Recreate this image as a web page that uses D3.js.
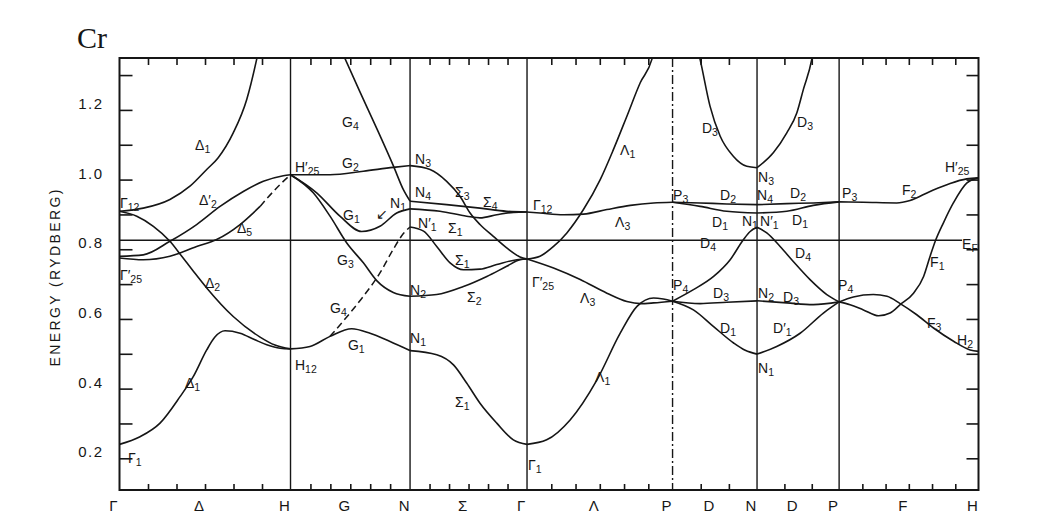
<!DOCTYPE html>
<html><head><meta charset="utf-8">
<script src="https://cdn.jsdelivr.net/npm/d3@7/dist/d3.min.js"></script>
<style>html,body{margin:0;padding:0;background:#fff;} svg{display:block;}</style>
</head><body><svg id="chart" width="1044" height="523"></svg>
<script>
// ---------- data ----------
// symmetry points along the k-path (units of Γ–H distance)
const kPos = [0, 1.0, 1.699, 2.383, 3.234, 3.728, 4.208, 5.023];
const symLabels = ["Γ","H","N","Γ","P","N","P","H"];
const segLabels = ["Δ","G","Σ","Λ","D","D","F"];
const segDivisions = [6,6,6,6,3,3,6];
const yTickValues = [0.2,0.3,0.4,0.5,0.6,0.7,0.8,0.9,1.0,1.1,1.2,1.3];
const yLabelValues = [0.2,0.4,0.6,0.8,1.0,1.2];
const yLabelText = ["0.2","0.4","0.6","0.8","1.0","1.2"];
const fermiEnergy = 0.826;

// bands: [k, E(Ry)]
// Γ – H (Δ)
const bandDelta1Upper = [[0,0.909],[0.139,0.918],[0.295,0.943],[0.412,0.981],[0.510,1.029],[0.576,1.062],[0.665,1.134],[0.744,1.23],[0.802,1.345],[0.813,1.37]];
const bandDelta2 = [[0,0.909],[0.101,0.895],[0.198,0.866],[0.295,0.823],[0.364,0.780],[0.432,0.737],[0.510,0.689],[0.665,0.607],[0.822,0.548],[0.909,0.525],[1,0.514]];
const bandDelta1Lower = [[0,0.240],[0.120,0.262],[0.237,0.301],[0.354,0.377],[0.432,0.435],[0.510,0.511],[0.558,0.548],[0.617,0.566],[0.705,0.559],[0.792,0.540],[0.861,0.526],[0.939,0.516],[1,0.514]];
const bandDelta2p = [[0,0.780],[0.139,0.784],[0.295,0.823],[0.451,0.871],[0.588,0.923],[0.724,0.966],[0.841,0.995],[0.958,1.011],[1,1.014]];
const bandDelta5 = [[0,0.775],[0.139,0.770],[0.295,0.780],[0.451,0.808],[0.568,0.828],[0.705,0.871],[0.822,0.923]];
const bandDelta5Dash = [[0.822,0.923],[0.939,0.986],[1,1.014]];
// H – N (G)
const bandG2 = [[1,1.014],[1.231,1.014],[1.426,1.024],[1.601,1.035],[1.699,1.040]];
const bandG4Upper = [[1.307,1.36],[1.404,1.254],[1.504,1.147],[1.601,1.04],[1.660,0.971],[1.699,0.938]];
const bandG1Upper = [[1,1.014],[1.153,0.962],[1.289,0.895],[1.416,0.851],[1.523,0.866],[1.621,0.904],[1.699,0.916]];
const bandG3 = [[1,1.014],[1.133,0.962],[1.231,0.895],[1.329,0.818],[1.426,0.761],[1.504,0.710],[1.601,0.676],[1.699,0.665]];
const bandG4Lower = [[1.231,0.550],[1.348,0.617],[1.426,0.665],[1.523,0.732],[1.601,0.800],[1.660,0.845],[1.699,0.864]];
const bandG1Lower = [[1,0.514],[1.114,0.521],[1.231,0.550],[1.358,0.572],[1.465,0.559],[1.582,0.535],[1.699,0.509]];
// N – Γ (Σ)
const bandSigma3 = [[1.699,1.040],[1.816,1.029],[1.913,0.995],[1.991,0.952],[2.050,0.904],[2.108,0.871],[2.186,0.837],[2.264,0.804],[2.342,0.778],[2.383,0.772]];
const bandSigma4 = [[1.699,0.938],[1.913,0.928],[2.108,0.918],[2.264,0.909],[2.383,0.907]];
const bandSigma1Upper = [[1.699,0.916],[1.874,0.909],[2.030,0.895],[2.108,0.890],[2.206,0.899],[2.303,0.906],[2.383,0.907]];
const bandSigma1Mid = [[1.699,0.864],[1.778,0.852],[1.855,0.808],[1.933,0.761],[2.011,0.741],[2.108,0.743],[2.206,0.756],[2.323,0.770],[2.383,0.772]];
const bandSigma2 = [[1.699,0.665],[1.855,0.670],[2.011,0.693],[2.148,0.722],[2.264,0.751],[2.342,0.770],[2.383,0.772]];
const bandSigma1Lower = [[1.699,0.509],[1.855,0.497],[1.953,0.468],[2.030,0.416],[2.108,0.358],[2.206,0.301],[2.303,0.253],[2.383,0.240]];
// Γ – P (Λ)
const bandLambda1Upper = [[2.383,0.772],[2.459,0.780],[2.538,0.808],[2.616,0.847],[2.713,0.914],[2.811,1.0],[2.888,1.086],[2.967,1.182],[3.045,1.278],[3.113,1.345],[3.126,1.37]];
const bandLambda3Upper = [[2.383,0.907],[2.459,0.904],[2.596,0.899],[2.713,0.901],[2.850,0.914],[2.987,0.926],[3.123,0.933],[3.234,0.935]];
const bandLambda3Lower = [[2.383,0.772],[2.538,0.746],[2.694,0.713],[2.850,0.674],[2.967,0.650],[3.045,0.644],[3.123,0.646],[3.234,0.651]];
const bandLambda1Lower = [[2.383,0.240],[2.498,0.253],[2.635,0.310],[2.792,0.425],[2.928,0.559],[3.026,0.636],[3.123,0.660],[3.180,0.657],[3.234,0.651]];
// P – N (D)
const bandD3UpperL = [[3.383,1.37],[3.395,1.345],[3.453,1.211],[3.512,1.125],[3.589,1.067],[3.668,1.038],[3.728,1.034]];
const bandD2L = [[3.234,0.935],[3.395,0.933],[3.551,0.930],[3.728,0.928]];
const bandD1UpperL = [[3.234,0.935],[3.395,0.923],[3.551,0.909],[3.728,0.904]];
const bandD4L = [[3.234,0.651],[3.356,0.684],[3.474,0.722],[3.571,0.770],[3.649,0.828],[3.688,0.851],[3.728,0.863]];
const bandD3MidL = [[3.234,0.651],[3.395,0.644],[3.551,0.648],[3.728,0.652]];
const bandD1LowerL = [[3.234,0.651],[3.356,0.626],[3.474,0.578],[3.591,0.531],[3.659,0.510],[3.728,0.499]];
// N – P (D)
const bandD3UpperR = [[3.728,1.034],[3.823,1.077],[3.902,1.134],[3.961,1.192],[3.999,1.259],[4.048,1.345],[4.057,1.37]];
const bandD2R = [[3.728,0.928],[3.902,0.931],[4.057,0.933],[4.208,0.936]];
const bandD1UpperR = [[3.728,0.904],[3.902,0.909],[4.057,0.926],[4.208,0.936]];
const bandD4R = [[3.728,0.863],[3.785,0.847],[3.863,0.808],[3.940,0.765],[4.038,0.713],[4.136,0.670],[4.208,0.649]];
const bandD3MidR = [[3.728,0.652],[3.902,0.646],[4.057,0.641],[4.208,0.649]];
const bandD1LowerR = [[3.728,0.499],[3.843,0.521],[3.980,0.559],[4.116,0.617],[4.208,0.649]];
// P – H (F)
const bandF2 = [[4.208,0.936],[4.350,0.935],[4.545,0.933],[4.623,0.940],[4.740,0.966],[4.857,0.989],[4.954,1.002],[5.023,1.005]];
const bandF1 = [[4.208,0.649],[4.272,0.641],[4.350,0.626],[4.439,0.609],[4.506,0.617],[4.565,0.641],[4.643,0.674],[4.702,0.722],[4.740,0.780],[4.770,0.823],[4.818,0.876],[4.876,0.933],[4.954,0.990],[5.023,1.005]];
const bandF3 = [[4.208,0.649],[4.291,0.663],[4.408,0.670],[4.488,0.665],[4.565,0.644],[4.662,0.612],[4.760,0.574],[4.877,0.536],[4.974,0.511],[5.023,0.507]];

const solidBands = [bandDelta1Upper,bandDelta2,bandDelta1Lower,bandDelta2p,bandDelta5,
  bandG2,bandG4Upper,bandG1Upper,bandG3,bandG1Lower,
  bandSigma3,bandSigma4,bandSigma1Upper,bandSigma1Mid,bandSigma2,bandSigma1Lower,
  bandLambda1Upper,bandLambda3Upper,bandLambda3Lower,bandLambda1Lower,
  bandD3UpperL,bandD2L,bandD1UpperL,bandD4L,bandD3MidL,bandD1LowerL,
  bandD3UpperR,bandD2R,bandD1UpperR,bandD4R,bandD3MidR,bandD1LowerR,
  bandF2,bandF1,bandF3];
const dashedBands = [bandDelta5Dash, bandG4Lower];

// band labels: [main, subscript, k, E]
const bandLabels = [
  ["Γ","12",0.003,0.919],["Δ","1",0.442,1.085],["Δ′","2",0.465,0.927],["Δ","5",0.687,0.847],
  ["Γ′","25",0.003,0.712],["Δ","2",0.500,0.689],["Δ","1",0.383,0.402],["Γ","1",0.050,0.186],
  ["H′","25",1.026,1.023],["G","2",1.301,1.033],["G","4",1.301,1.152],["N","3",1.728,1.045],
  ["N","4",1.728,0.951],["Σ","3",1.962,0.951],["Σ","4",2.126,0.922],["G","1",1.307,0.884],
  ["N","1",1.582,0.919],["↙","",1.500,0.886],["N′","1",1.746,0.862],["Σ","1",1.921,0.848],
  ["G","3",1.272,0.755],["Σ","1",1.962,0.755],["N","2",1.699,0.669],["Σ","2",2.032,0.650],
  ["G","4",1.231,0.616],["G","1",1.336,0.511],["H","12",1.026,0.454],["N","1",1.699,0.530],
  ["Σ","1",1.962,0.348],["Γ","1",2.389,0.166],["Γ","12",2.418,0.913],["Γ′","25",2.412,0.693],
  ["Λ","1",2.927,1.071],["Λ","3",2.898,0.865],["Λ","3",2.693,0.646],["Λ","1",2.781,0.420],
  ["P","3",3.237,0.942],["D","2",3.512,0.942],["N","4",3.728,0.940],["N","3",3.734,0.992],
  ["D","3",3.406,1.133],["D","3",3.962,1.152],["D","1",3.465,0.865],["N","1",3.640,0.868],
  ["N′","1",3.746,0.866],["D","2",3.921,0.947],["D","1",3.933,0.870],["D","4",3.395,0.803],
  ["D","4",3.950,0.775],["P","3",4.225,0.947],["F","2",4.576,0.955],["H′","25",4.827,1.023],
  ["E","F",4.927,0.800],["F","1",4.740,0.750],["P","4",3.237,0.683],["D","3",3.471,0.659],
  ["N","2",3.734,0.660],["D","3",3.880,0.650],["D","1",3.512,0.559],["D′","1",3.822,0.559],
  ["N","1",3.734,0.444],["P","4",4.202,0.683],["F","3",4.722,0.574],["H","2",4.898,0.525]
];

// ---------- drawing ----------
const svg = d3.select("#chart");
svg.append("rect").attr("width",1044).attr("height",523).attr("fill","#fff");
const ink = "#161616";

const x = d3.scaleLinear().domain([0, 5.023]).range([119.5, 978.5]);
const y = d3.scaleLinear().domain([0.109, 1.349]).range([490, 58]);

svg.append("clipPath").attr("id","plotclip").append("rect")
  .attr("x", x(0)).attr("y", y(1.349)).attr("width", x(5.023)-x(0)).attr("height", y(0.109)-y(1.349));

// minor k ticks
const kTicks = [];
segDivisions.forEach((n,i)=>{ for(let j=1;j<n;j++) kTicks.push(kPos[i] + j*(kPos[i+1]-kPos[i])/n); });

function styleAxis(g){ g.select(".domain").remove(); g.selectAll("line").attr("stroke",ink).attr("stroke-width",1.6); }

svg.append("g").attr("transform",`translate(0,${y(0.109)})`)
  .call(d3.axisBottom(x).tickValues(kTicks).tickSize(-6).tickFormat("")).call(styleAxis);
svg.append("g").attr("transform",`translate(0,${y(1.349)})`)
  .call(d3.axisTop(x).tickValues(kTicks).tickSize(-7).tickFormat("")).call(styleAxis);
svg.append("g").attr("transform",`translate(${x(0)},0)`)
  .call(d3.axisLeft(y).tickValues(yTickValues).tickSize(-13).tickFormat("")).call(styleAxis);
svg.append("g").attr("transform",`translate(${x(5.023)},0)`)
  .call(d3.axisRight(y).tickValues(yTickValues).tickSize(-12).tickFormat("")).call(styleAxis);

// y labels
const yl = svg.append("g").attr("transform",`translate(${x(0)},0)`)
  .call(d3.axisLeft(y).tickValues(yLabelValues).tickSize(0).tickPadding(16)
        .tickFormat((d,i)=>yLabelText[i]));
yl.select(".domain").remove();
yl.selectAll("text").attr("font-family","Liberation Sans, Arial, sans-serif")
  .attr("font-size",15).attr("letter-spacing",1.5).attr("fill",ink).attr("dy","-0.1em");

// symmetry lines
svg.append("g").selectAll("line").data(kPos.slice(1,7)).join("line")
  .attr("x1",d=>x(d)).attr("x2",d=>x(d)).attr("y1",y(1.349)).attr("y2",y(0.109))
  .attr("stroke",ink).attr("stroke-width",1.4)
  .attr("stroke-dasharray",(d,i)=> i===3 ? "9,3,2,3" : null);

// Fermi level
svg.append("line").attr("x1",x(0)).attr("x2",x(4.927)).attr("y1",y(fermiEnergy)).attr("y2",y(fermiEnergy))
  .attr("stroke",ink).attr("stroke-width",1.5);

// frame
svg.append("rect").attr("x",x(0)).attr("y",y(1.349)).attr("width",x(5.023)-x(0)).attr("height",y(0.109)-y(1.349))
  .attr("fill","none").attr("stroke",ink).attr("stroke-width",2);

// bands
const line = d3.line().x(d=>x(d[0])).y(d=>y(d[1])).curve(d3.curveMonotoneX);
const bg = svg.append("g").attr("clip-path","url(#plotclip)");
bg.selectAll("path.solid").data(solidBands).join("path").attr("class","solid")
  .attr("d",line).attr("fill","none").attr("stroke",ink).attr("stroke-width",1.6);
bg.selectAll("path.dash").data(dashedBands).join("path").attr("class","dash")
  .attr("d",line).attr("fill","none").attr("stroke",ink).attr("stroke-width",1.5).attr("stroke-dasharray","7,4");

// band labels
const lab = svg.append("g").attr("font-family","Liberation Sans, Arial, sans-serif").attr("fill",ink);
bandLabels.forEach(([m,s,k,e])=>{
  const t = lab.append("text").attr("x",x(k)).attr("y",y(e)).attr("font-size",14);
  t.append("tspan").text(m);
  if(s) t.append("tspan").attr("font-size",10.5).attr("dy",3).text(s);
});

// x labels
const xLabelK = [], xLabelT = [];
kPos.forEach((k,i)=>{ xLabelK.push(k); xLabelT.push(symLabels[i]);
  if(i<segLabels.length){ xLabelK.push((kPos[i]+kPos[i+1])/2); xLabelT.push(segLabels[i]); } });
svg.append("g").selectAll("text").data(xLabelK).join("text")
  .attr("x",d=>x(d)-6).attr("y",511).attr("text-anchor","middle")
  .attr("font-family","Liberation Sans, Arial, sans-serif").attr("font-size",15).attr("fill",ink)
  .text((d,i)=>xLabelT[i]);

// axis title
svg.append("text").attr("transform","translate(60,278) rotate(-90)").attr("text-anchor","middle")
  .attr("font-family","Liberation Sans, Arial, sans-serif").attr("font-size",14).attr("fill",ink)
  .attr("textLength",177).attr("lengthAdjust","spacing").text("ENERGY (RYDBERG)");

// title
svg.append("text").attr("x",77).attr("y",48).attr("font-family","Liberation Serif, Times New Roman, serif")
  .attr("font-size",30).attr("fill",ink).text("Cr");
</script></body></html>
